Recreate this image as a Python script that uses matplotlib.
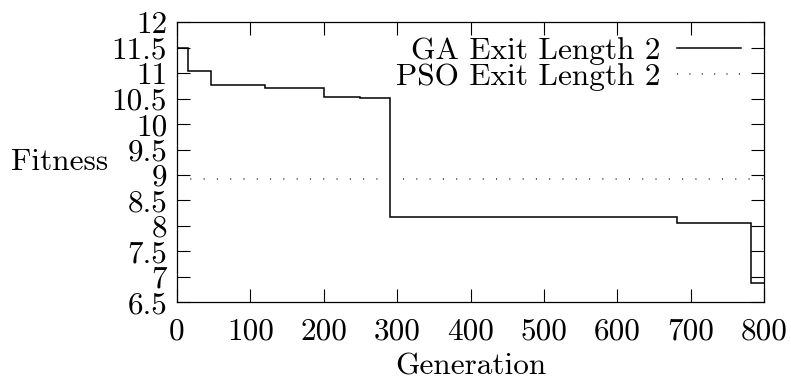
import matplotlib
matplotlib.use("Agg")
import matplotlib.pyplot as plt
from matplotlib.lines import Line2D

plt.rcParams['font.family'] = ['cmr10', 'DejaVu Serif']
plt.rcParams['axes.formatter.use_mathtext'] = True
plt.rcParams['font.size'] = 22.5

# Data
ga_generation = [0, 15, 46, 120, 201, 250, 290, 681, 782, 800]
ga_fitness = [11.5, 11.05, 10.77, 10.70, 10.53, 10.51, 8.17, 8.05, 6.88, 6.88]
pso_generation = [0, 800]
pso_fitness = [8.93, 8.93]

xticks = [0, 100, 200, 300, 400, 500, 600, 700, 800]
xtick_labels = ['0', '100', '200', '300', '400', '500', '600', '700', '800']
yticks = [6.5, 7, 7.5, 8, 8.5, 9, 9.5, 10, 10.5, 11, 11.5, 12]
ytick_labels = ['6.5', '7', '7.5', '8', '8.5', '9', '9.5', '10', '10.5', '11', '11.5', '12']
series_names = ['GA Exit Length 2', 'PSO Exit Length 2']

fig = plt.figure(figsize=(7.91, 3.80), dpi=100)
ax = fig.add_axes([177 / 791, 1 - 302.3 / 380, 587 / 791, 280 / 380])

ax.step(ga_generation, ga_fitness, where='post', color='black', lw=1.1, solid_joinstyle='miter')
ax.plot(pso_generation, pso_fitness, color='#333333', lw=1.1, linestyle=(0, (0.7, 8.0)))

ax.set_xlim(0, 800)
ax.set_ylim(6.5, 12)
ax.set_xticks(xticks)
ax.set_xticklabels(xtick_labels)
ax.set_yticks(yticks)
ax.set_yticklabels(ytick_labels)

ax.tick_params(direction='in', length=9.1, width=0.8, top=True, right=True, color='black')
ax.tick_params(axis='y', pad=7)
ax.tick_params(axis='x', pad=11)
for s in ax.spines.values():
    s.set_linewidth(0.9)

ax.set_ylabel('Fitness', rotation=0, ha='right', va='center')
ax.yaxis.set_label_coords(-0.1175, 0.5)
ax.set_xlabel('Generation', va='top')
ax.xaxis.set_label_coords(0.5, -0.178)

# legend (gnuplot style: right-aligned text, sample to the right)
rows_y = [0.909, 0.815]
styles = [dict(color='black', lw=1.1), dict(color='#333333', lw=1.1, linestyle=(0, (0.7, 7.4)))]
for name, yy, st in zip(series_names, rows_y, styles):
    ax.text(0.823, yy, name, transform=ax.transAxes, ha='right', va='center_baseline')
    ax.add_line(Line2D([0.851, 0.960], [yy, yy], transform=ax.transAxes, **st))

fig.savefig('out.png', dpi=100)
